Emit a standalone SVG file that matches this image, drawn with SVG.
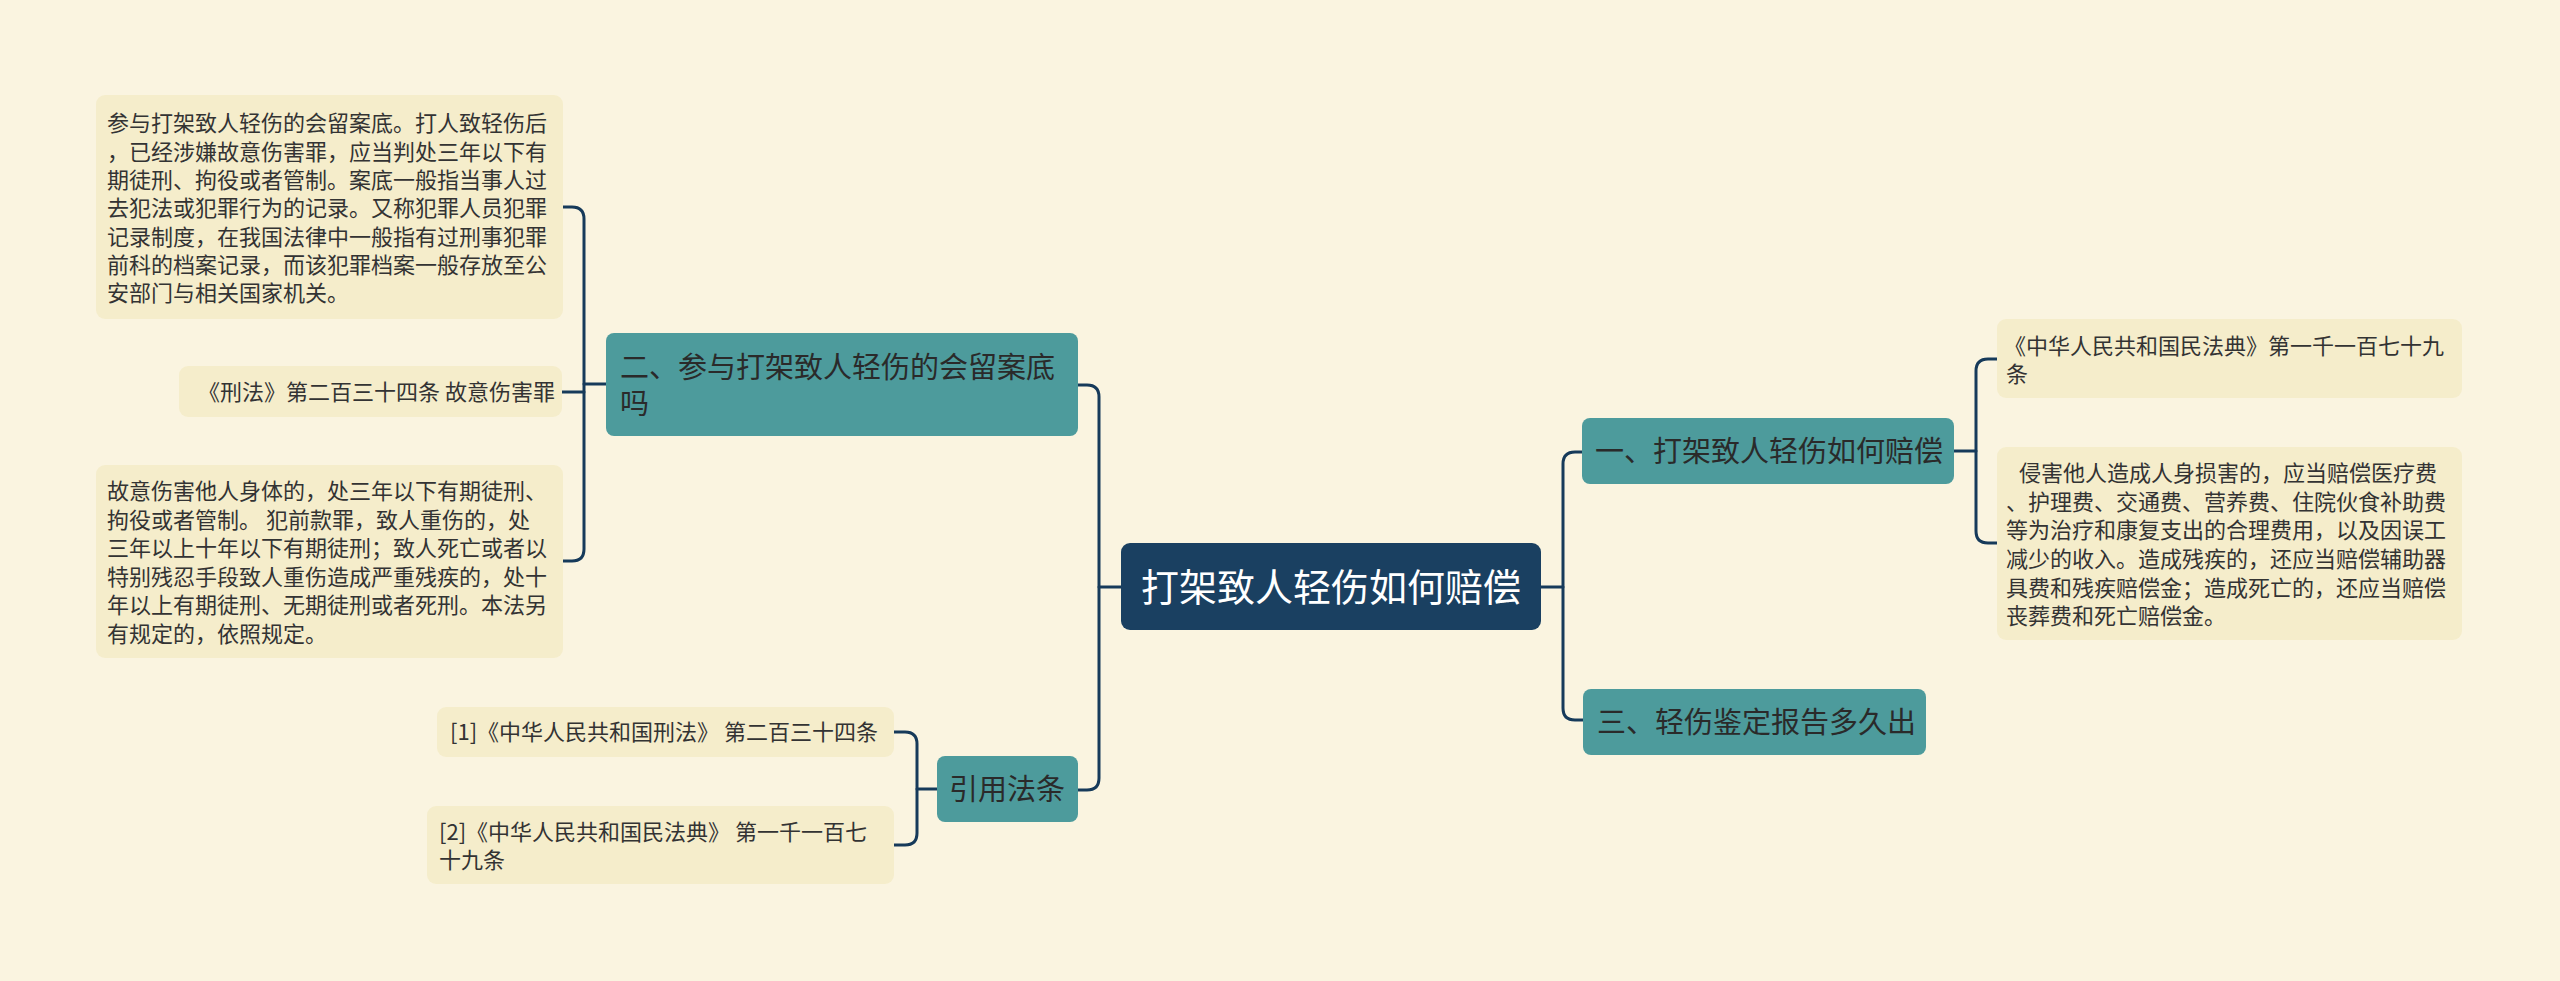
<svg xmlns="http://www.w3.org/2000/svg" width="2560" height="981" viewBox="0 0 2560 981">
<style>
.bg{fill:#FAF4E0}
.leaf{fill:#F5EDCB}
.main{fill:#4D9B9C}
.root{fill:#1A4061}
.ln{fill:none;stroke:#163A5A;stroke-width:3;stroke-linecap:round}
text{font-family:"Noto Sans CJK SC","Noto Sans",sans-serif}
.lt{font-size:22px;fill:#333333}
.mt{font-size:29px;fill:#2A2A2A}
.rt{font-size:38px;fill:#FFFFFF}
</style>
<rect class="bg" x="0" y="0" width="2560" height="981"/>
<g id="connectors">
<path class="ln" d="M1121,587 H1099"/>
<path class="ln" d="M1078,385 H1087 Q1099,385 1099,397 V778 Q1099,790 1087,790 H1078"/>
<path class="ln" d="M1541,587 H1563"/>
<path class="ln" d="M1582,452 H1575 Q1563,452 1563,464 V708 Q1563,720 1575,720 H1583"/>
<path class="ln" d="M1954,451 H1976"/>
<path class="ln" d="M1997,359 H1988 Q1976,359 1976,371 V531 Q1976,543 1988,543 H1997"/>
<path class="ln" d="M606,384 H584"/>
<path class="ln" d="M563,207 H572 Q584,207 584,219 V549 Q584,561 572,561 H563"/>
<path class="ln" d="M562,392 H584"/>
<path class="ln" d="M937,789 H917"/>
<path class="ln" d="M894,732 H905 Q917,732 917,744 V833 Q917,845 905,845 H894"/>
</g>
<g id="root">
<rect class="root" x="1121" y="543" width="420" height="87" rx="9"/>
<text class="rt" x="1331" y="601" text-anchor="middle">打架致人轻伤如何赔偿</text>
</g>
<g id="n1">
<rect class="main" x="1582" y="418" width="372" height="66" rx="8"/>
<text class="mt" x="1595" y="462">一、打架致人轻伤如何赔偿</text>
</g>
<g id="n3">
<rect class="main" x="1583" y="689" width="343" height="66" rx="8"/>
<text class="mt" x="1597" y="733">三、轻伤鉴定报告多久出</text>
</g>
<g id="n2">
<rect class="main" x="606" y="333" width="472" height="103" rx="8"/>
<text class="mt" x="620" y="378">二、参与打架致人轻伤的会留案底</text>
<text class="mt" x="620" y="414">吗</text>
</g>
<g id="ref">
<rect class="main" x="937" y="756" width="141" height="66" rx="8"/>
<text class="mt" x="1007" y="800" text-anchor="middle">引用法条</text>
</g>
<g id="leaf1">
<rect class="leaf" x="1997" y="319" width="465" height="79" rx="9"/>
<text class="lt" x="2004" y="354">《中华人民共和国民法典》第一千一百七十九</text>
<text class="lt" x="2006" y="382">条</text>
</g>
<g id="leaf2">
<rect class="leaf" x="1997" y="447" width="465" height="193" rx="9"/>
<text class="lt" x="2019" y="481">侵害他人造成人身损害的，应当赔偿医疗费</text>
<text class="lt" x="2006" y="510">、护理费、交通费、营养费、住院伙食补助费</text>
<text class="lt" x="2006" y="538">等为治疗和康复支出的合理费用，以及因误工</text>
<text class="lt" x="2006" y="567">减少的收入。造成残疾的，还应当赔偿辅助器</text>
<text class="lt" x="2006" y="596">具费和残疾赔偿金；造成死亡的，还应当赔偿</text>
<text class="lt" x="2006" y="624">丧葬费和死亡赔偿金。</text>
</g>
<g id="leafA">
<rect class="leaf" x="96" y="95" width="467" height="224" rx="9"/>
<text class="lt" x="107" y="131">参与打架致人轻伤的会留案底。打人致轻伤后</text>
<text class="lt" x="107" y="160">，已经涉嫌故意伤害罪，应当判处三年以下有</text>
<text class="lt" x="107" y="188">期徒刑、拘役或者管制。案底一般指当事人过</text>
<text class="lt" x="107" y="216">去犯法或犯罪行为的记录。又称犯罪人员犯罪</text>
<text class="lt" x="107" y="245">记录制度，在我国法律中一般指有过刑事犯罪</text>
<text class="lt" x="107" y="273">前科的档案记录，而该犯罪档案一般存放至公</text>
<text class="lt" x="107" y="301">安部门与相关国家机关。</text>
</g>
<g id="leafB">
<rect class="leaf" x="179" y="366" width="383" height="51" rx="9"/>
<text class="lt" x="555" y="400" text-anchor="end">《刑法》第二百三十四条 故意伤害罪</text>
</g>
<g id="leafC">
<rect class="leaf" x="96" y="465" width="467" height="193" rx="9"/>
<text class="lt" x="107" y="499">故意伤害他人身体的，处三年以下有期徒刑、</text>
<text class="lt" x="107" y="528">拘役或者管制。 犯前款罪，致人重伤的，处</text>
<text class="lt" x="107" y="556">三年以上十年以下有期徒刑；致人死亡或者以</text>
<text class="lt" x="107" y="585">特别残忍手段致人重伤造成严重残疾的，处十</text>
<text class="lt" x="107" y="613">年以上有期徒刑、无期徒刑或者死刑。本法另</text>
<text class="lt" x="107" y="642">有规定的，依照规定。</text>
</g>
<g id="leafD">
<rect class="leaf" x="437" y="707" width="457" height="50" rx="9"/>
<text class="lt" x="450" y="740">[1]《中华人民共和国刑法》 第二百三十四条</text>
</g>
<g id="leafE">
<rect class="leaf" x="427" y="806" width="467" height="78" rx="9"/>
<text class="lt" x="439" y="840">[2]《中华人民共和国民法典》 第一千一百七</text>
<text class="lt" x="439" y="868">十九条</text>
</g>
</svg>
